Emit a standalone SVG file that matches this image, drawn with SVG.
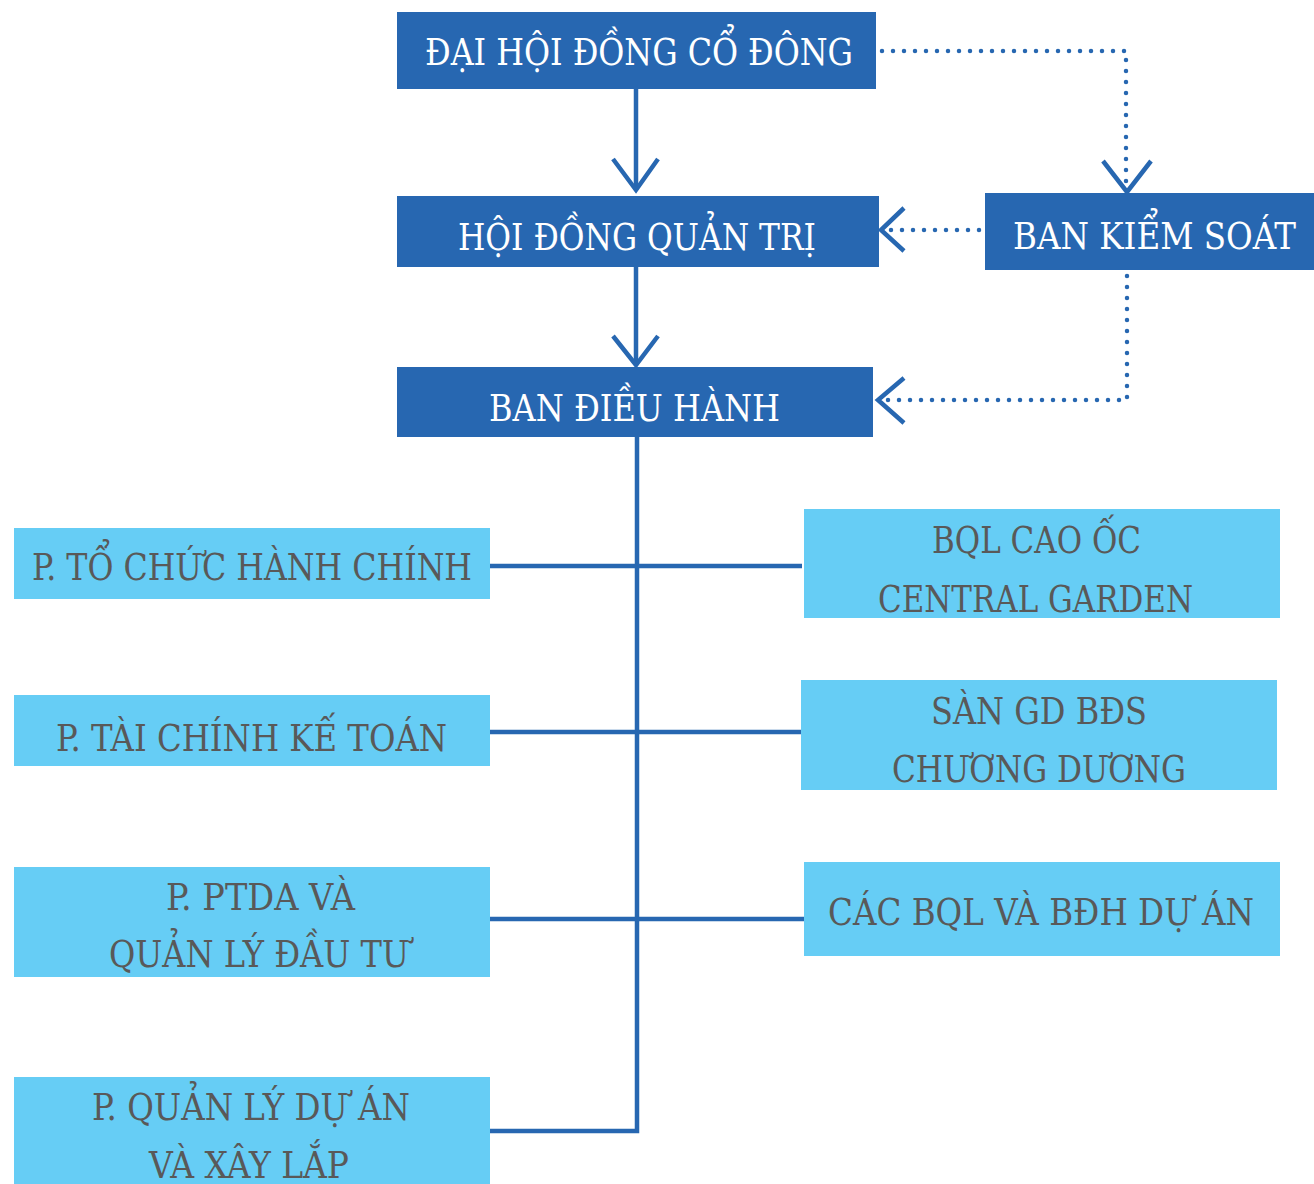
<svg xmlns="http://www.w3.org/2000/svg" width="1314" height="1184" viewBox="0 0 1314 1184">
<style>
.dk{fill:#2767B1}
.lt{fill:#66CDF5}
.t{font-family:"DejaVu Serif Condensed","DejaVu Serif",serif;font-stretch:condensed;font-size:37px}
.tw{fill:#FFFFFF}
.tg{fill:#595959}
.ln{fill:none;stroke:#2767B1;stroke-width:4.5}
.dot{fill:none;stroke:#2767B1;stroke-width:4.5;stroke-linecap:round;stroke-dasharray:0 11}
.ah{fill:none;stroke:#2767B1;stroke-width:4.5;stroke-linejoin:miter}
</style>
<rect width="1314" height="1184" fill="#FFFFFF"/>
<g id="connectors">
<line class="ln" x1="636" y1="89" x2="636" y2="190"/>
<polyline class="ah" points="613,159 636,190 658,159"/>
<line class="ln" x1="636" y1="267" x2="636" y2="365"/>
<polyline class="ah" points="613,336 636,365 658,336"/>
<path class="dot" d="M882,51 H1126 V190"/>
<polyline class="ah" points="1103,161 1127,192 1151,161"/>
<path class="dot" d="M979,230 H884"/>
<polyline class="ah" points="904,208 881,230 904,251"/>
<path class="dot" d="M1127,276 V400 H882"/>
<polyline class="ah" points="904,378 878,400 904,423"/>
<path class="ln" d="M637,437 V1131 H487"/>
<line class="ln" x1="490" y1="566" x2="802" y2="566"/>
<line class="ln" x1="490" y1="732" x2="801" y2="732"/>
<line class="ln" x1="490" y1="919" x2="804" y2="919"/>
</g>
<g id="dhdcd">
<rect class="dk" x="397" y="12" width="479" height="77"/>
<text class="t tw" x="425" y="65" textLength="428" lengthAdjust="spacingAndGlyphs">ĐẠI HỘI ĐỒNG CỔ ĐÔNG</text>
</g>
<g id="hdqt">
<rect class="dk" x="397" y="196" width="482" height="71"/>
<text class="t tw" x="458" y="250" textLength="358" lengthAdjust="spacingAndGlyphs">HỘI ĐỒNG QUẢN TRỊ</text>
</g>
<g id="bks">
<rect class="dk" x="985" y="193" width="329" height="77"/>
<text class="t tw" x="1013" y="249" textLength="283" lengthAdjust="spacingAndGlyphs">BAN KIỂM SOÁT</text>
</g>
<g id="bdh">
<rect class="dk" x="397" y="367" width="476" height="70"/>
<text class="t tw" x="489" y="421" textLength="291" lengthAdjust="spacingAndGlyphs">BAN ĐIỀU HÀNH</text>
</g>
<g id="p-tchc">
<rect class="lt" x="14" y="528" width="476" height="71"/>
<text class="t tg" x="32" y="580" textLength="440" lengthAdjust="spacingAndGlyphs">P. TỔ CHỨC HÀNH CHÍNH</text>
</g>
<g id="p-tckt">
<rect class="lt" x="14" y="695" width="476" height="71"/>
<text class="t tg" x="56" y="751" textLength="391" lengthAdjust="spacingAndGlyphs">P. TÀI CHÍNH KẾ TOÁN</text>
</g>
<g id="p-ptda">
<rect class="lt" x="14" y="867" width="476" height="110"/>
<text class="t tg" x="166" y="910" textLength="189" lengthAdjust="spacingAndGlyphs">P. PTDA VÀ</text>
<text class="t tg" x="109" y="967" textLength="300" lengthAdjust="spacingAndGlyphs">QUẢN LÝ ĐẦU TƯ</text>
</g>
<g id="p-qlda">
<rect class="lt" x="14" y="1077" width="476" height="107"/>
<text class="t tg" x="92" y="1120" textLength="318" lengthAdjust="spacingAndGlyphs">P. QUẢN LÝ DỰ ÁN</text>
<text class="t tg" x="149" y="1178" textLength="200" lengthAdjust="spacingAndGlyphs">VÀ XÂY LẮP</text>
</g>
<g id="bql-cg">
<rect class="lt" x="804" y="509" width="476" height="109"/>
<text class="t tg" x="932" y="553" textLength="209" lengthAdjust="spacingAndGlyphs">BQL CAO ỐC</text>
<text class="t tg" x="878" y="612" textLength="315" lengthAdjust="spacingAndGlyphs">CENTRAL GARDEN</text>
</g>
<g id="san-gd">
<rect class="lt" x="801" y="680" width="476" height="110"/>
<text class="t tg" x="931" y="724" textLength="216" lengthAdjust="spacingAndGlyphs">SÀN GD BĐS</text>
<text class="t tg" x="892" y="782" textLength="294" lengthAdjust="spacingAndGlyphs">CHƯƠNG DƯƠNG</text>
</g>
<g id="cac-bql">
<rect class="lt" x="804" y="862" width="476" height="94"/>
<text class="t tg" x="828" y="925" textLength="426" lengthAdjust="spacingAndGlyphs">CÁC BQL VÀ BĐH DỰ ÁN</text>
</g>
</svg>
